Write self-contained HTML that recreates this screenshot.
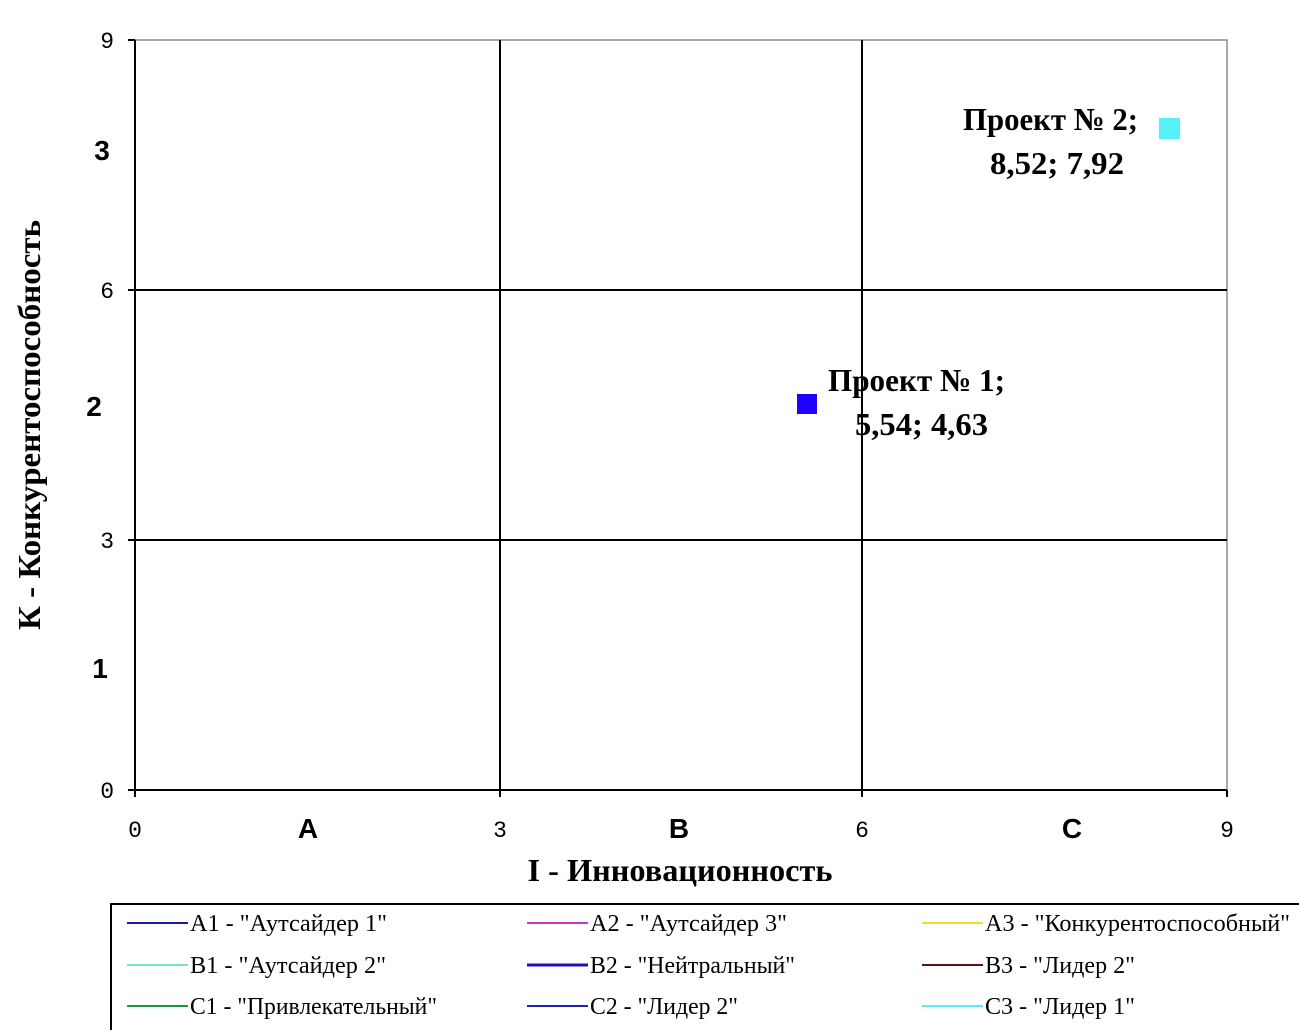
<!DOCTYPE html>
<html><head><meta charset="utf-8"><style>
body{margin:0;background:#fff;width:1299px;height:1030px;overflow:hidden}
</style></head><body>
<svg width="1299" height="1030" xmlns="http://www.w3.org/2000/svg" font-family="Liberation Serif, serif">
<rect x="135" y="40" width="1092" height="750" fill="#fff" stroke="#7f8f99" stroke-width="1.5"/>
<g stroke="#000" stroke-width="2">
<line x1="500" y1="40" x2="500" y2="790"/>
<line x1="862" y1="40" x2="862" y2="790"/>
<line x1="135" y1="290" x2="1227" y2="290"/>
<line x1="135" y1="540" x2="1227" y2="540"/>
<line x1="135" y1="40" x2="135" y2="792"/>
<line x1="128" y1="790" x2="1227" y2="790"/>
<line x1="128" y1="40" x2="135" y2="40"/>
<line x1="128" y1="290" x2="135" y2="290"/>
<line x1="128" y1="540" x2="135" y2="540"/>
<line x1="135" y1="790" x2="135" y2="797"/>
<line x1="500" y1="790" x2="500" y2="797"/>
<line x1="862" y1="790" x2="862" y2="797"/>
<line x1="1227" y1="790" x2="1227" y2="797"/>
</g>
<g font-family="Liberation Mono, monospace" font-size="23" fill="#000" text-anchor="end">
<text x="114" y="48">9</text><text x="114" y="298">6</text><text x="114" y="548">3</text><text x="114" y="798">0</text>
</g>
<g font-family="Liberation Mono, monospace" font-size="23" fill="#000" text-anchor="middle">
<text x="135" y="837">0</text><text x="500" y="837">3</text><text x="862" y="837">6</text><text x="1227" y="837">9</text>
</g>
<g font-family="Liberation Sans, sans-serif" font-size="28" font-weight="bold" text-anchor="middle">
<text x="102" y="160">3</text><text x="94" y="416">2</text><text x="100" y="678">1</text>
<text x="308" y="838">A</text><text x="679" y="838">B</text><text x="1072" y="838">C</text>
</g>
<text x="680" y="881" font-size="32" font-weight="bold" text-anchor="middle" textLength="305" lengthAdjust="spacingAndGlyphs">I - Инновационность</text>
<text transform="translate(40,425) rotate(-90)" font-size="32" font-weight="bold" text-anchor="middle" textLength="410" lengthAdjust="spacingAndGlyphs">К - Конкурентоспособность</text>
<rect x="797" y="394" width="20" height="20" fill="#2200ff"/>
<rect x="1159" y="118" width="21" height="21" fill="#55f0f8"/>
<g font-size="32" font-weight="bold">
<text x="828" y="391" textLength="177" lengthAdjust="spacingAndGlyphs">Проект № 1;</text>
<text x="855" y="435" textLength="133" lengthAdjust="spacingAndGlyphs">5,54; 4,63</text>
<text x="963" y="130" textLength="175" lengthAdjust="spacingAndGlyphs">Проект № 2;</text>
<text x="990" y="174" textLength="134" lengthAdjust="spacingAndGlyphs">8,52; 7,92</text>
</g>
<rect x="111" y="904" width="1200" height="140" fill="#fff" stroke="#000" stroke-width="2"/>
<g font-size="24" fill="#000">
<line x1="127" y1="923" x2="188" y2="923" stroke="#1a1aa0" stroke-width="2"/><text x="190" y="931" textLength="197" lengthAdjust="spacingAndGlyphs">A1 - "Аутсайдер 1"</text>
<line x1="127" y1="965" x2="188" y2="965" stroke="#70e8d0" stroke-width="2"/><text x="190" y="973" textLength="196" lengthAdjust="spacingAndGlyphs">B1 - "Аутсайдер 2"</text>
<line x1="127" y1="1006" x2="188" y2="1006" stroke="#1a9a3a" stroke-width="2"/><text x="190" y="1014" textLength="247" lengthAdjust="spacingAndGlyphs">C1 - "Привлекательный"</text>
<line x1="527" y1="923" x2="588" y2="923" stroke="#d030d0" stroke-width="2"/><text x="590" y="931" textLength="197" lengthAdjust="spacingAndGlyphs">A2 - "Аутсайдер 3"</text>
<line x1="527" y1="965" x2="588" y2="965" stroke="#2010b0" stroke-width="3"/><text x="590" y="973" textLength="205" lengthAdjust="spacingAndGlyphs">B2 - "Нейтральный"</text>
<line x1="527" y1="1006" x2="588" y2="1006" stroke="#2020c0" stroke-width="2"/><text x="590" y="1014" textLength="148" lengthAdjust="spacingAndGlyphs">C2 - "Лидер 2"</text>
<line x1="922" y1="923" x2="983" y2="923" stroke="#f0e020" stroke-width="2"/><text x="985" y="931" textLength="305" lengthAdjust="spacingAndGlyphs">A3 - "Конкурентоспособный"</text>
<line x1="922" y1="965" x2="983" y2="965" stroke="#601010" stroke-width="2"/><text x="985" y="973" textLength="150" lengthAdjust="spacingAndGlyphs">B3 - "Лидер 2"</text>
<line x1="922" y1="1006" x2="983" y2="1006" stroke="#60e8f0" stroke-width="2"/><text x="985" y="1014" textLength="150" lengthAdjust="spacingAndGlyphs">C3 - "Лидер 1"</text>
</g>
</svg>
</body></html>
